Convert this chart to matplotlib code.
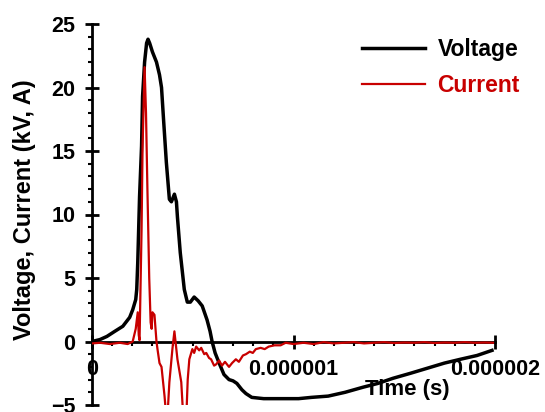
import matplotlib
matplotlib.use('Agg')
import matplotlib.pyplot as plt
import numpy as np
from matplotlib.ticker import MultipleLocator

plt.rcParams['font.family'] = ['Liberation Sans', 'DejaVu Sans']
plt.rcParams['font.weight'] = 'bold'

# Voltage trace: time (microseconds) and voltage (kV)
v_time_us = [0.000, 0.039, 0.074, 0.113, 0.153, 0.187, 0.202, 0.217, 0.222, 0.227,
             0.236, 0.246, 0.251, 0.261, 0.271, 0.278, 0.286, 0.300, 0.320, 0.335,
             0.345, 0.355, 0.369, 0.384, 0.394, 0.409, 0.419, 0.424, 0.438, 0.458,
             0.473, 0.488, 0.507, 0.527, 0.547, 0.571, 0.586, 0.596, 0.611, 0.631,
             0.655, 0.680, 0.700, 0.719, 0.744, 0.764, 0.793, 0.852, 0.926, 1.025,
             1.089, 1.172, 1.256, 1.345, 1.419, 1.493, 1.581, 1.665, 1.749, 1.828,
             1.911, 1.985]
v_kv = [0.0, 0.15, 0.4, 0.8, 1.2, 1.9, 2.5, 3.3, 4.1, 6.2,
        11.4, 15.4, 19.3, 22.0, 23.5, 23.8, 23.5, 22.8, 22.0, 21.0,
        20.0, 17.5, 14.1, 11.2, 11.0, 11.6, 11.0, 9.8, 7.0, 4.1,
        3.1, 3.1, 3.5, 3.2, 2.8, 1.7, 0.8, 0.0, -0.9, -1.7,
        -2.6, -3.0, -3.1, -3.3, -3.8, -4.1, -4.4, -4.5, -4.5, -4.5,
        -4.4, -4.3, -4.0, -3.6, -3.3, -2.9, -2.5, -2.1, -1.7, -1.4,
        -1.1, -0.7]

# Current trace: time (microseconds) and current (A)
i_time_us = [0.000, 0.040, 0.089, 0.138, 0.177, 0.202, 0.217, 0.227, 0.232, 0.236,
             0.246, 0.251, 0.261, 0.268, 0.275, 0.284, 0.291, 0.296, 0.300, 0.310,
             0.320, 0.325, 0.335, 0.345, 0.360, 0.369, 0.377, 0.384, 0.399, 0.409,
             0.424, 0.443, 0.453, 0.468, 0.475, 0.483, 0.498, 0.507, 0.517, 0.532,
             0.542, 0.557, 0.567, 0.581, 0.591, 0.606, 0.616, 0.631, 0.645, 0.660,
             0.680, 0.695, 0.714, 0.729, 0.749, 0.764, 0.783, 0.798, 0.813, 0.837,
             0.857, 0.877, 0.906, 0.936, 0.961, 1.000, 1.050, 1.100, 1.150, 1.200,
             1.250, 1.300, 1.350, 1.400, 1.450, 1.500, 1.550, 1.600, 1.650, 1.700,
             1.750, 1.800, 1.850, 1.900, 1.950, 1.990]
i_amp = [-0.15, -0.1, -0.2, -0.1, -0.2, 0.0, 1.0, 2.3, 0.5, 0.1,
         8.8, 15.4, 21.6, 18.0, 12.0, 5.0, 1.5, 1.0, 2.3, 2.1,
         0.0, -0.6, -1.7, -2.0, -4.3, -6.0, -5.2, -3.2, -0.6, 0.8,
         -1.4, -3.2, -6.0, -6.0, -3.0, -1.4, -0.6, -0.9, -0.4, -0.7,
         -0.5, -1.0, -0.9, -1.3, -1.4, -1.9, -1.8, -1.5, -1.9, -1.6,
         -2.0, -1.7, -1.4, -1.6, -1.1, -1.0, -0.8, -0.9, -0.6, -0.5,
         -0.6, -0.4, -0.3, -0.3, -0.1, -0.2, -0.1, -0.2, -0.05, -0.15,
         -0.1, -0.05, -0.15, -0.1, -0.05, -0.12, -0.08, -0.1, -0.05, -0.12,
         -0.08, -0.1, -0.05, -0.1, -0.08, -0.1]

x_tick_vals = [0, 1e-6, 2e-6]
x_tick_labels = ['0', '0.000001', '0.000002']

fig = plt.figure(figsize=(5.45, 4.12), dpi=100)
ax = fig.add_axes([92/545, 1-405/412, 403/545, 381/412])

ax.plot(np.array(v_time_us)*1e-6, v_kv, color='black', lw=2.5, label='Voltage', zorder=3)
ax.plot(np.array(i_time_us)*1e-6, i_amp, color='#c80000', lw=1.6, label='Current', zorder=4)

ax.set_xlim(0, 2e-6)
ax.set_ylim(-5, 25)
for s in ['top', 'right']:
    ax.spines[s].set_visible(False)
ax.spines['bottom'].set_position(('data', 0))
for s in ['left', 'bottom']:
    ax.spines[s].set_linewidth(2)

ax.set_xticks(x_tick_vals)
ax.set_xticklabels(x_tick_labels)
ax.xaxis.set_minor_locator(MultipleLocator(1e-7))
ax.yaxis.set_major_locator(MultipleLocator(5))
ax.yaxis.set_minor_locator(MultipleLocator(1))

ax.tick_params(axis='y', which='major', direction='inout', length=10, width=2,
               labelsize=15.5, pad=7)
ax.tick_params(axis='y', which='minor', direction='out', length=3, width=1.5)
ax.tick_params(axis='x', which='major', direction='inout', length=10, width=2,
               labelsize=15.5, pad=7.5)
ax.tick_params(axis='x', which='minor', direction='out', length=3, width=1.5)
for lab in ax.get_xticklabels() + ax.get_yticklabels():
    lab.set_fontweight('bold')

fig.text(407/545, 1-390/412, 'Time (s)', fontsize=16, fontweight='bold',
         ha='center', va='center')
fig.text(25/545, 1-210/412, 'Voltage, Current (kV, A)', fontsize=17, fontweight='bold',
         rotation=90, ha='center', va='center')

leg = ax.legend(loc='upper left', bbox_to_anchor=(362/545, 1-38/412),
                bbox_transform=fig.transFigure, frameon=False, fontsize=16.5,
                handlelength=2.75, handletextpad=0.55, labelspacing=0.55,
                borderpad=0, borderaxespad=0)
for t in leg.get_texts():
    t.set_fontweight('bold')
leg.get_texts()[1].set_color('#c80000')

fig.savefig('out.png', dpi=100)
